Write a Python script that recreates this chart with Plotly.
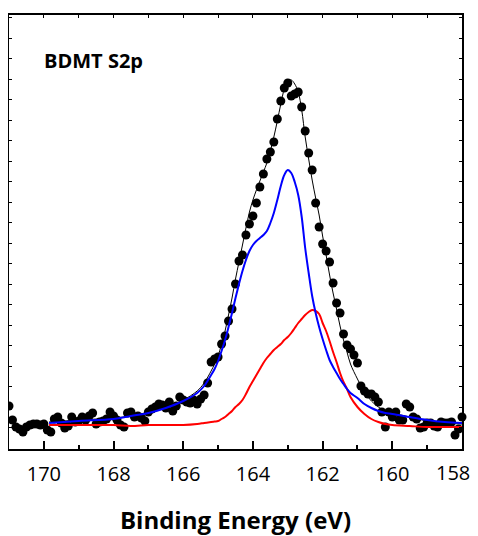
import plotly.graph_objects as go

# ---- measured data (binding energy in eV, intensity in arbitrary units) ----
energy_data = [171.0, 170.9, 170.8, 170.7, 170.6, 170.5, 170.4, 170.3, 170.2, 170.1,
               170.0, 169.9, 169.8, 169.7, 169.6, 169.5, 169.4, 169.3, 169.2, 169.1,
               169.0, 168.9, 168.8, 168.7, 168.6, 168.5, 168.4, 168.3, 168.2, 168.1,
               168.0, 167.9, 167.8, 167.7, 167.6, 167.5, 167.4, 167.3, 167.2, 167.1,
               167.0, 166.9, 166.8, 166.7, 166.6, 166.5, 166.4, 166.3, 166.2, 166.1,
               166.0, 165.9, 165.8, 165.7, 165.6, 165.5, 165.4, 165.3, 165.2, 165.1,
               165.0, 164.9, 164.8, 164.7, 164.6, 164.5, 164.4, 164.3, 164.2, 164.1,
               164.0, 163.9, 163.8, 163.7, 163.6, 163.5, 163.4, 163.3, 163.2, 163.1,
               163.0, 162.9, 162.8, 162.7, 162.6, 162.5, 162.4, 162.3, 162.2, 162.1,
               162.0, 161.9, 161.8, 161.7, 161.6, 161.5, 161.4, 161.3, 161.2, 161.1,
               161.0, 160.9, 160.8, 160.7, 160.6, 160.5, 160.4, 160.3, 160.2, 160.1,
               160.0, 159.9, 159.8, 159.7, 159.6, 159.5, 159.4, 159.3, 159.2, 159.1,
               159.0, 158.9, 158.8, 158.7, 158.6, 158.5, 158.4, 158.3, 158.2, 158.1,
               158.0]
intensity_data = [43, 29, 22, 20, 17, 22, 24, 25, 25, 24,
                  25, 19, 17, 30, 32, 26, 21, 23, 32, 27,
                  28, 32, 29, 33, 36, 25, 27, 28, 30, 37,
                  33, 29, 24, 22, 36, 37, 32, 33, 31, 28,
                  37, 40, 42, 45, 44, 41, 47, 38, 43, 52,
                  49, 47, 46, 49, 45, 50, 54, 66, 87, 90,
                  92, 105, 113, 128, 140, 165, 188, 194, 214, 225,
                  233, 246, 262, 275, 290, 297, 307, 330, 348, 361,
                  366, 353, 355, 357, 342, 318, 296, 279, 246, 222,
                  205, 198, 187, 166, 146, 136, 115, 104, 100, 94,
                  86, 63, 58, 55, 55, 52, 47, 37, 22, 37,
                  32, 37, 29, 29, 45, 42, 32, 30, 21, 22,
                  26, 26, 23, 22, 27, 26, 26, 27, 14, 20,
                  32]

# ---- fitted curves ----
energy_fit = [169.85, 169.0, 168.0, 167.5, 167.0, 166.5, 166.0, 165.6, 165.4,
              165.2, 165.1, 165.0, 164.9, 164.8, 164.7, 164.6, 164.5, 164.4, 164.3,
              164.2, 164.1, 164.0, 163.9, 163.8, 163.7, 163.6, 163.5, 163.4, 163.3,
              163.2, 163.1, 163.0, 162.9, 162.8, 162.7, 162.6, 162.5, 162.4, 162.3,
              162.2, 162.1, 162.0, 161.9, 161.8, 161.7, 161.6, 161.5, 161.4, 161.3,
              161.2, 161.0, 160.8, 160.6, 160.4, 160.2, 160.0, 159.5, 159.0, 158.5,
              158.0]
blue_fit = [26, 28, 30, 33, 36, 41, 48, 56, 63,
            74, 80, 88, 98, 109, 122, 136, 151, 165, 178,
            189, 198, 204, 208, 211, 214, 218, 226, 236, 249,
            263, 274, 279, 276, 267, 254, 232, 201, 176, 153,
            136, 122, 110, 99, 89, 82, 76, 70, 65, 60,
            56, 51, 45, 41, 38, 36, 35, 32, 29, 27,
            26]
red_fit = [24, 24, 24, 23, 24, 24, 24, 25, 26,
           27, 27.5, 28, 30, 32, 35, 38, 42, 45, 49,
           55, 62, 68, 74, 80, 86, 91, 95, 99, 102,
           105, 109, 112, 116, 121, 126, 130, 134, 137, 139,
           138, 135, 126, 118, 108, 97, 87, 76, 67, 60,
           52, 42, 35, 30, 27, 25, 24, 23, 22, 22,
           22]
envelope_fit = [27, 29, 31, 33, 37, 42, 49, 58, 66,
                78, 85, 93, 105, 118, 134, 151, 170, 187, 204,
                221, 237, 249, 259, 268, 277, 286, 298, 312, 328,
                345, 360, 368, 369, 365, 357, 339, 312, 290, 269,
                251, 234, 213, 194, 174, 156, 140, 123, 109, 97,
                85, 70, 57, 48, 42, 38, 36, 32, 28, 26,
                25]

x_ticks = [170, 168, 166, 164, 162, 160, 158]
# the last label sits at the very edge of the frame, so it is placed as a
# right-aligned text label that stays inside the picture
x_tick_text = [str(v) for v in x_ticks[:-1]] + [""]
edge_label = str(x_ticks[-1])

FONT = "Open Sans"

fig = go.Figure()
fig.add_trace(go.Scatter(x=energy_fit, y=envelope_fit, mode="lines",
                         line=dict(color="black", width=1, shape="spline"),
                         showlegend=False, hoverinfo="skip"))
fig.add_trace(go.Scatter(x=energy_data, y=intensity_data, mode="markers",
                         marker=dict(color="black", size=9, line=dict(width=0)),
                         cliponaxis=False, showlegend=False))
fig.add_trace(go.Scatter(x=energy_fit, y=red_fit, mode="lines",
                         line=dict(color="#ff0000", width=2, shape="spline"),
                         showlegend=False))
fig.add_trace(go.Scatter(x=energy_fit, y=blue_fit, mode="lines",
                         line=dict(color="#0000ff", width=2, shape="spline"),
                         showlegend=False))
# invisible trace to activate the mirrored tick axes
fig.add_trace(go.Scatter(x=[171], y=[0], xaxis="x2", yaxis="y2", mode="markers",
                         marker=dict(opacity=0), showlegend=False, hoverinfo="skip"))

# the page body adds an 8 px offset, so the figure is sized to fit the window
fig.update_layout(
    width=470, height=528,
    margin=dict(l=1, r=16, t=7, b=87, autoexpand=False),
    paper_bgcolor="white", plot_bgcolor="white",
    font=dict(family=FONT, color="black"),
    xaxis=dict(range=[171, 158], tickmode="array", tickvals=x_ticks,
               ticktext=x_tick_text, automargin=False,
               ticklabeloverflow="allow", ticklabelstandoff=6,
               ticks="inside", ticklen=8, tickwidth=1.5, tickcolor="black",
               minor=dict(dtick=1, ticks="inside", ticklen=4, tickwidth=1.5, tickcolor="black"),
               showline=True, linecolor="black", linewidth=2, mirror=True,
               showgrid=False, zeroline=False,
               tickfont=dict(family=FONT, size=20, color="black"),
               title=dict(text="<b>Binding Energy (eV)</b>",
                          font=dict(family=FONT, size=24, color="black"),
                          standoff=31)),
    xaxis2=dict(range=[171, 158], overlaying="x", side="top", dtick=1, tick0=158,
                ticks="inside", ticklen=3, tickwidth=1, tickcolor="black", automargin=False,
                showticklabels=False, showline=False, showgrid=False, zeroline=False),
    yaxis=dict(range=[0, 434], ticks="inside", ticklen=3, tickwidth=1, automargin=False,
               tickcolor="black", tick0=1, dtick=20.5, showticklabels=False,
               showline=True, linecolor="black", linewidth=2, mirror=True,
               showgrid=False, zeroline=False),
    yaxis2=dict(range=[0, 434], overlaying="y", side="right", ticks="inside", automargin=False,
                ticklen=3, tickwidth=1, tickcolor="black", tick0=1, dtick=20.5,
                showticklabels=False, showline=False, showgrid=False, zeroline=False),
    annotations=[
        dict(text="<b>BDMT S2p</b>", xref="paper", yref="paper",
             x=0.072, y=0.895, xanchor="left", yanchor="middle",
             showarrow=False, font=dict(family=FONT, size=20, color="black")),
        dict(text=edge_label, xref="paper", yref="paper", x=1.0, y=0.0,
             xanchor="right", yanchor="top", xshift=9, yshift=-9,
             showarrow=False, borderpad=0,
             font=dict(family=FONT, size=20, color="black")),
    ],
)

fig.write_html("out.html")
